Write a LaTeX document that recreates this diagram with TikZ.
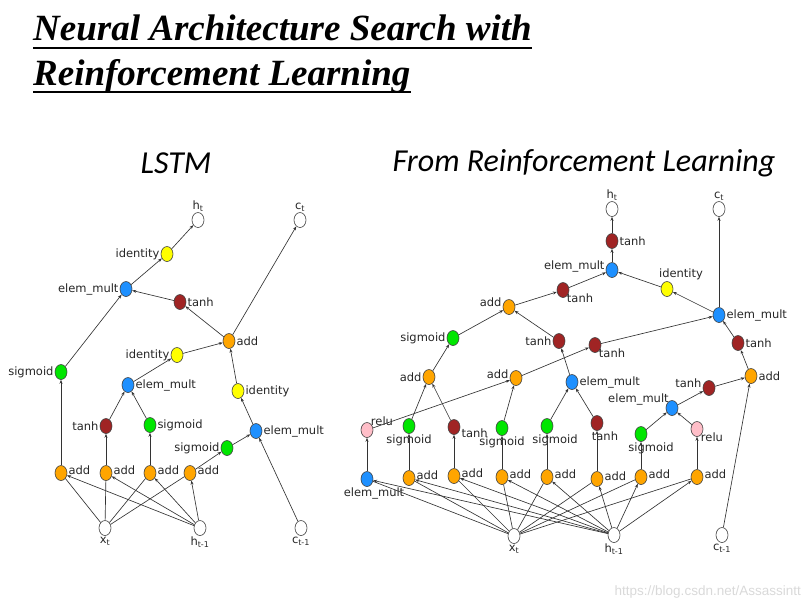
\documentclass[tikz,border=0pt]{standalone}
\usepackage{fontspec}
\usepackage{tikz}
\usetikzlibrary{arrows.meta}
\usetikzlibrary{shapes.geometric}
\newfontfamily\labfont{DejaVu Sans}
\newfontfamily\titlefont{Liberation Serif}
\newfontfamily\subfont{Carlito}
\newfontfamily\markfont{Liberation Sans}
\definecolor{opadd}{RGB}{255,165,0}
\definecolor{opsig}{RGB}{0,230,0}
\definecolor{opmul}{RGB}{30,144,255}
\definecolor{optanh}{RGB}{160,36,36}
\definecolor{opid}{RGB}{255,255,0}
\definecolor{oprelu}{RGB}{255,190,200}

\begin{document}
\begin{tikzpicture}[x=1pt,y=-1pt,
		op/.style={ellipse,draw=black!75,semithick,minimum width=12,minimum height=15,inner sep=0pt},
		io/.style={op,fill=white},
		addop/.style={op,fill=opadd},
		sigop/.style={op,fill=opsig},
		mulop/.style={op,fill=opmul},
		tanhop/.style={op,fill=optanh},
		idop/.style={op,fill=opid},
		reluop/.style={op,fill=oprelu},
		every label/.style={font=\labfont\fontsize{11.5}{12}\selectfont,inner sep=1pt,text=black!85},
		edge/.style={-{Stealth[length=4pt,width=3pt]},draw=black!80,line width=.65pt},
		titletext/.style={anchor=base west,inner sep=0pt,font=\titlefont\bfseries\itshape\fontsize{37}{40}\selectfont}]
			\useasboundingbox (0,0) rectangle (809,606);
			% title
			\node [titletext] (title1) at (33,40) {Neural Architecture Search with};
			\node [titletext] (title2) at (33,85) {Reinforcement Learning};
			\draw [line width=2pt] ([yshift=-8]title1.base west) -- ([yshift=-8]title1.base east);
			\draw [line width=2pt] ([yshift=-7]title2.base west) -- ([yshift=-7]title2.base east);
			\node [font=\subfont\itshape\fontsize{32}{36}\selectfont] (sub1) at (176,163) {LSTM};
			\node [font=\subfont\itshape\fontsize{32}{36}\selectfont] (sub2) at (584,163) {From Reinforcement Learning};

			% LSTM
			\node [io,label={above:h\textsubscript{t}}] (l1) at (198,220) {};
			\node [io,label={above:c\textsubscript{t}}] (l2) at (300,220) {};
			\node [idop,label=left:identity] (l3) at (167,254) {};
			\node [mulop,label=left:elem\_mult] (l4) at (126,289) {};
			\node [tanhop,label=right:tanh] (l5) at (180,302) {};
			\node [addop,label=right:add] (l6) at (229,341) {};
			\node [idop,label=left:identity] (l7) at (177,355) {};
			\node [sigop,label=left:sigmoid] (l8) at (61,372) {};
			\node [mulop,label=right:elem\_mult] (l9) at (128,385) {};
			\node [idop,label=right:identity] (l10) at (238,391) {};
			\node [tanhop,label=left:tanh] (l11) at (106,426) {};
			\node [sigop,label=right:sigmoid] (l12) at (150,425) {};
			\node [mulop,label=right:elem\_mult] (l13) at (256,431) {};
			\node [sigop,label=left:sigmoid] (l14) at (227,448) {};
			\node [addop,label={[yshift=3]right:add}] (l15) at (61,473) {};
			\node [addop,label={[yshift=3]right:add}] (l16) at (106,473) {};
			\node [addop,label={[yshift=3]right:add}] (l17) at (150,473) {};
			\node [addop,label={[yshift=3]right:add}] (l18) at (190,473) {};
			\node [io,label={below:x\textsubscript{t}}] (l19) at (105,528) {};
			\node [io,label={below:h\textsubscript{t-1}}] (l20) at (200,528) {};
			\node [io,label={below:c\textsubscript{t-1}}] (l21) at (301,528) {};
			\foreach \from/\to in {l3/l1, l4/l3, l5/l4, l6/l5, l6/l2, l7/l6, l10/l6, l8/l4, l9/l7, l11/l9, l12/l9,
				l13/l10, l14/l13, l21/l13, l15/l8, l16/l11, l17/l12, l18/l14}
				\draw [edge] (\from) -- (\to);
			\foreach \to in {l15,l16,l17,l18}
				\draw [edge] (l19) -- (\to) (l20) -- (\to);

			% from reinforcement learning
			\node [io,label={above:h\textsubscript{t}}] (r1) at (612,209) {};
			\node [io,label={above:c\textsubscript{t}}] (r2) at (719,209) {};
			\node [tanhop,label=right:tanh] (r3) at (612,241) {};
			\node [mulop,label={[yshift=4]left:elem\_mult}] (r4) at (612,270) {};
			\node [idop,label={[xshift=14]above:identity}] (r5) at (667,289) {};
			\node [mulop,label=right:elem\_mult] (r6) at (719,315) {};
			\node [tanhop,label={[label distance=-3]below right:tanh}] (r7) at (563,290) {};
			\node [addop,label={[yshift=5]left:add}] (r8) at (509,307) {};
			\node [sigop,label=left:sigmoid] (r9) at (453,338) {};
			\node [tanhop,label=left:tanh] (r10) at (559,341) {};
			\node [tanhop,label={[label distance=-3]below right:tanh}] (r11) at (595,345) {};
			\node [tanhop,label=right:tanh] (r12) at (738,343) {};
			\node [addop,label=right:add] (r13) at (751,376) {};
			\node [addop,label=left:add] (r14) at (429,377) {};
			\node [addop,label={[yshift=4]left:add}] (r15) at (516,378) {};
			\node [mulop,label=right:elem\_mult] (r16) at (572,382) {};
			\node [tanhop,label={[yshift=5]left:tanh}] (r17) at (709,388) {};
			\node [mulop,label={[label distance=-4]above left:elem\_mult}] (r18) at (672,408) {};
			\node [reluop,label={[label distance=-3]above right:relu}] (r19) at (367,430) {};
			\node [sigop,label=below:sigmoid] (r20) at (409,426) {};
			\node [tanhop,label={[yshift=-6]right:tanh}] (r21) at (454,427) {};
			\node [sigop,label=below:sigmoid] (r22) at (502,428) {};
			\node [sigop,label={[xshift=8]below:sigmoid}] (r23) at (547,426) {};
			\node [tanhop,label={[xshift=8]below:tanh}] (r24) at (597,423) {};
			\node [sigop,label={[xshift=10]below:sigmoid}] (r25) at (641,434) {};
			\node [reluop,label={[label distance=-3]below right:relu}] (r26) at (697,429) {};
			\node [mulop,label={[xshift=7]below:elem\_mult}] (r27) at (367,479) {};
			\node [addop,label={[yshift=3]right:add}] (r28) at (409,478) {};
			\node [addop,label={[yshift=3]right:add}] (r29) at (454,476) {};
			\node [addop,label={[yshift=3]right:add}] (r30) at (502,477) {};
			\node [addop,label={[yshift=3]right:add}] (r31) at (547,477) {};
			\node [addop,label={[yshift=3]right:add}] (r32) at (597,479) {};
			\node [addop,label={[yshift=3]right:add}] (r33) at (641,477) {};
			\node [addop,label={[yshift=3]right:add}] (r34) at (697,477) {};
			\node [io,label={below:x\textsubscript{t}}] (r35) at (514,536) {};
			\node [io,label={below:h\textsubscript{t-1}}] (r36) at (614,535) {};
			\node [io,label={below:c\textsubscript{t-1}}] (r37) at (722,535) {};
			\foreach \from/\to in {r3/r1, r4/r3, r7/r4, r5/r4, r6/r5, r6/r2, r8/r7, r9/r8, r10/r8, r11/r6, r12/r6,
				r13/r12, r14/r9, r16/r10, r15/r11, r17/r13, r37/r13, r18/r17, r20/r14, r21/r14, r19/r15, r22/r15,
				r23/r16, r24/r16, r25/r18, r26/r18, r27/r19, r28/r20, r29/r21, r30/r22, r31/r23, r32/r24,
				r33/r25, r34/r26}
				\draw [edge] (\from) -- (\to);
			\foreach \to in {r27,r28,r29,r30,r31,r32,r33,r34}
				\draw [edge] (r35) -- (\to) (r36) -- (\to);

			\node [anchor=base east,inner sep=0pt,text=black!15,font=\markfont\fontsize{13.5}{15}\selectfont] (mark) at (801,595) {https://blog.csdn.net/Assassintt};
		\end{tikzpicture}
\end{document}
